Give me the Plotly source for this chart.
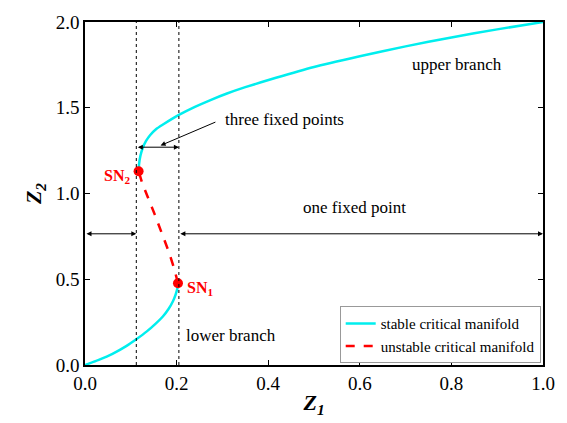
import plotly.graph_objects as go

# Lower stable branch
lower_z1 = [0.0, 0.03, 0.06, 0.09, 0.112, 0.135, 0.155, 0.17, 0.182, 0.192, 0.198, 0.202, 0.203]
lower_z2 = [0.0, 0.03, 0.065, 0.11, 0.15, 0.196, 0.243, 0.283, 0.325, 0.372, 0.412, 0.45, 0.477]
# Unstable branch
unst_z1 = [0.203, 0.195, 0.183, 0.168, 0.152, 0.137, 0.125, 0.117]
unst_z2 = [0.477, 0.56, 0.66, 0.77, 0.88, 0.98, 1.06, 1.13]
# Upper stable branch
upper_z1 = [0.117, 0.118, 0.121, 0.126, 0.133, 0.142, 0.155, 0.172, 0.19, 0.205, 0.24, 0.274,
            0.31, 0.35, 0.417, 0.5, 0.6, 0.7, 0.8, 0.9, 1.0]
upper_z2 = [1.13, 1.17, 1.22, 1.265, 1.305, 1.34, 1.375, 1.405, 1.435, 1.458, 1.505, 1.545,
            1.583, 1.62, 1.675, 1.738, 1.80, 1.858, 1.91, 1.957, 2.0]
# Saddle-node points
sn_z1 = [0.203, 0.117]
sn_z2 = [0.477, 1.13]
sn_labels = ["SN<sub>1</sub>", "SN<sub>2</sub>"]
# Boundaries
bound_x = [0.112, 0.205]

FONT = "Liberation Serif"
CYAN = "#00EEEE"
RED = "#FF0000"

fig = go.Figure()
fig.add_trace(go.Scatter(x=lower_z1 + [None] + upper_z1, y=lower_z2 + [None] + upper_z2,
                         mode="lines", line=dict(color=CYAN, width=2.5, shape="spline", smoothing=0.6),
                         name="stable critical manifold", connectgaps=False))
fig.add_trace(go.Scatter(x=unst_z1, y=unst_z2, mode="lines",
                         line=dict(color=RED, width=2.5, dash="dash"),
                         name="unstable critical manifold"))
fig.add_trace(go.Scatter(x=sn_z1, y=sn_z2, mode="markers",
                         marker=dict(color=RED, size=10), showlegend=False))

for bx in bound_x:
    fig.add_shape(type="line", x0=bx, x1=bx, y0=0, y1=2, xref="x", yref="y",
                  line=dict(color="black", width=1, dash="dot"))

# SN labels
fig.add_annotation(x=sn_z1[0], y=sn_z2[0], text="<b>" + sn_labels[0] + "</b>", showarrow=False,
                   xanchor="left", xshift=7, yshift=-5, font=dict(family=FONT, size=16, color=RED))
fig.add_annotation(x=sn_z1[1], y=sn_z2[1], text="<b>" + sn_labels[1] + "</b>", showarrow=False,
                   xanchor="right", xshift=-7, yshift=-5, font=dict(family=FONT, size=16, color=RED))

arrow_kw = dict(showarrow=True, arrowhead=2, arrowsize=1, arrowwidth=1, arrowcolor="black",
                xref="x", yref="y", axref="x", ayref="y", text="")
# double arrows
fig.add_annotation(x=bound_x[1], y=1.27, ax=bound_x[0], ay=1.27, arrowside="end+start", **arrow_kw)
fig.add_annotation(x=bound_x[0], y=0.765, ax=0.0, ay=0.765, arrowside="end+start", **arrow_kw)
fig.add_annotation(x=1.0, y=0.765, ax=bound_x[1], ay=0.765, arrowside="end+start", **arrow_kw)
# pointer
fig.add_annotation(x=0.165, y=1.28, ax=0.288, ay=1.42, **arrow_kw)

txt_font = dict(family=FONT, size=17, color="black")
fig.add_annotation(x=0.436, y=1.43, text="three fixed points", showarrow=False, font=txt_font)
fig.add_annotation(x=0.588, y=0.92, text="one fixed point", showarrow=False, font=txt_font)
fig.add_annotation(x=0.812, y=1.75, text="upper branch", showarrow=False, font=txt_font)
fig.add_annotation(x=0.318, y=0.17, text="lower branch", showarrow=False, font=txt_font)

axis_common = dict(showgrid=False, zeroline=False, showline=True, linecolor="black", linewidth=1.5,
                   mirror="ticks", ticks="inside", ticklen=5, tickcolor="black",
                   tickfont=dict(family=FONT, size=19, color="black"))
fig.update_xaxes(range=[0, 1], tickvals=[0, 0.2, 0.4, 0.6, 0.8, 1.0],
                 ticktext=["0.0", "0.2", "0.4", "0.6", "0.8", "1.0"],
                 title=dict(text="<b><i>Z<sub>1</sub></i></b>", font=dict(family=FONT, size=22, color="black"),
                            standoff=2), **axis_common)
fig.update_yaxes(range=[0, 2], tickvals=[0, 0.5, 1.0, 1.5, 2.0],
                 ticktext=["0.0", "0.5", "1.0", "1.5", "2.0"],
                 title=dict(text="<b><i>Z<sub>2</sub></i></b>", font=dict(family=FONT, size=22, color="black"),
                            standoff=8), **axis_common)

fig.update_layout(width=567, height=423, margin=dict(l=85, r=13, t=17, b=58),
                  plot_bgcolor="white", paper_bgcolor="white",
                  legend=dict(x=0.995, y=0.005, xanchor="right", yanchor="bottom",
                              bordercolor="#999999", borderwidth=1, bgcolor="white",
                              font=dict(family=FONT, size=15, color="black"),
                              tracegroupgap=0, itemwidth=30))
fig.write_html("out.html")
